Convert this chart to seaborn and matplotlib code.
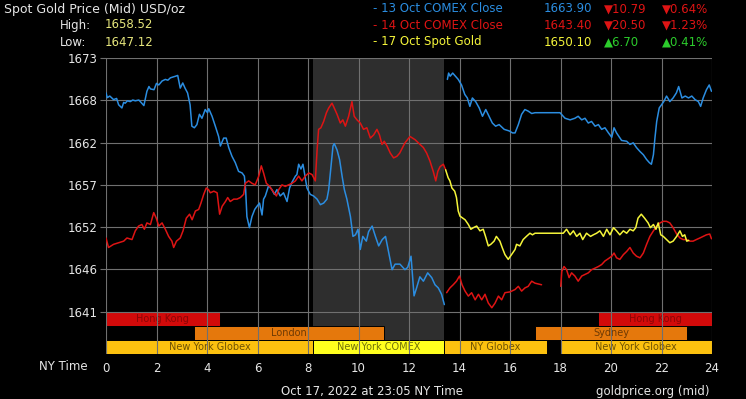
import numpy as np
import pandas as pd
import matplotlib
matplotlib.use("Agg")
import matplotlib.pyplot as plt
import seaborn as sns

# ---------------- data ----------------
# 13 Oct COMEX close line (blue), two segments
blue_a = [(0.00,1668.6),(0.05,1668.0),(0.15,1668.2),(0.30,1667.75),(0.42,1667.9),(0.50,1667.1),(0.63,1666.7),(0.70,1667.4),(0.76,1667.3),(0.85,1667.6),(0.96,1667.5),(1.06,1667.7),(1.16,1667.6),(1.30,1667.7),(1.36,1667.5),(1.50,1667.0),(1.62,1668.8),(1.70,1669.4),(1.76,1669.1),(1.90,1669.0),(2.00,1669.8),(2.09,1669.6),(2.22,1670.1),(2.35,1670.3),(2.45,1670.2),(2.55,1670.5),(2.65,1670.6),(2.75,1670.7),(2.84,1670.8),(2.94,1669.2),(3.04,1669.85),(3.13,1669.2),(3.23,1668.6),(3.33,1667.1),(3.40,1664.4),(3.50,1664.2),(3.60,1664.6),(3.70,1665.9),(3.80,1665.4),(3.93,1666.5),(4.02,1666.1),(4.07,1666.6),(4.20,1665.65),(4.33,1664.4),(4.46,1663.1),(4.53,1661.9),(4.66,1662.9),(4.76,1662.9),(4.86,1661.7),(4.99,1660.6),(5.12,1659.8),(5.25,1658.7),(5.39,1658.5),(5.48,1658.1),(5.53,1656.4),(5.58,1653.0),(5.68,1651.6),(5.78,1653.0),(5.89,1653.9),(5.98,1654.3),(6.08,1654.7),(6.18,1653.2),(6.24,1655.2),(6.31,1655.6),(6.44,1656.9),(6.57,1656.4),(6.67,1655.8),(6.77,1656.4),(6.90,1655.6),(7.03,1656.0),(7.17,1654.9),(7.27,1656.6),(7.36,1657.3),(7.43,1657.7),(7.50,1658.1),(7.56,1658.3),(7.63,1659.6),(7.72,1659.0),(7.80,1659.6),(7.87,1658.3),(7.96,1656.6),(8.09,1655.8),(8.22,1655.6),(8.36,1655.2),(8.49,1654.5),(8.62,1654.7),(8.75,1655.2),(8.82,1656.4),(8.91,1659.3),(8.99,1661.9),(9.04,1662.2),(9.15,1661.4),(9.25,1660.2),(9.35,1658.1),(9.44,1656.4),(9.54,1655.2),(9.68,1653.0),(9.78,1650.5),(9.88,1650.7),(9.98,1651.4),(10.07,1648.85),(10.17,1650.5),(10.31,1649.9),(10.40,1651.1),(10.54,1651.8),(10.67,1650.5),(10.80,1649.3),(10.94,1650.1),(11.07,1650.5),(11.20,1648.4),(11.33,1646.3),(11.45,1647.0),(11.64,1647.0),(11.84,1646.3),(11.95,1646.6),(12.08,1648.0),(12.20,1643.0),(12.30,1644.0),(12.43,1645.4),(12.57,1644.85),(12.74,1645.9),(12.90,1645.3),(13.03,1644.4),(13.16,1644.0),(13.29,1643.2),(13.40,1641.9)]
blue_b = [(13.52,1670.3),(13.57,1671.1),(13.63,1670.7),(13.73,1671.1),(13.84,1670.7),(13.95,1670.3),(14.08,1669.6),(14.21,1668.4),(14.31,1667.96),(14.41,1666.9),(14.51,1667.96),(14.64,1667.5),(14.78,1666.7),(14.91,1665.65),(15.04,1666.5),(15.17,1665.65),(15.30,1664.8),(15.43,1664.4),(15.57,1664.6),(15.77,1664.0),(15.97,1663.8),(16.10,1663.55),(16.20,1663.55),(16.33,1664.6),(16.46,1665.9),(16.59,1666.5),(16.72,1666.3),(16.86,1666.0),(16.99,1666.1),(17.98,1666.1),(18.18,1665.4),(18.38,1665.2),(18.57,1665.4),(18.70,1665.65),(18.84,1665.2),(18.97,1665.4),(19.10,1664.8),(19.23,1665.0),(19.37,1664.4),(19.50,1664.6),(19.63,1664.0),(19.76,1664.2),(19.90,1663.55),(20.03,1663.0),(20.12,1664.2),(20.22,1663.55),(20.42,1662.6),(20.62,1662.5),(20.75,1662.1),(20.88,1662.3),(21.01,1661.7),(21.15,1661.2),(21.28,1660.8),(21.41,1660.2),(21.52,1659.8),(21.60,1659.6),(21.68,1660.8),(21.74,1662.9),(21.81,1665.0),(21.91,1666.7),(22.00,1667.1),(22.09,1667.5),(22.20,1668.2),(22.33,1667.5),(22.46,1667.96),(22.59,1668.6),(22.68,1669.4),(22.81,1667.96),(22.94,1668.2),(23.07,1667.96),(23.20,1668.2),(23.33,1667.75),(23.46,1667.5),(23.55,1666.9),(23.65,1667.96),(23.78,1669.0),(23.89,1669.6),(23.98,1668.8)]

# 14 Oct COMEX close line (red), three segments
red_a = [(0.00,1650.3),(0.10,1649.1),(0.30,1649.5),(0.50,1649.7),(0.70,1649.9),(0.83,1650.3),(1.03,1650.1),(1.16,1651.2),(1.29,1651.8),(1.42,1652.0),(1.52,1651.4),(1.62,1652.2),(1.76,1652.0),(1.89,1653.5),(1.99,1652.8),(2.09,1651.8),(2.22,1652.2),(2.35,1651.4),(2.48,1650.5),(2.61,1649.9),(2.68,1649.1),(2.79,1649.9),(2.94,1650.3),(3.05,1651.2),(3.18,1652.8),(3.31,1653.3),(3.41,1652.6),(3.54,1653.7),(3.67,1653.9),(3.76,1654.7),(3.87,1655.8),(3.97,1656.6),(4.06,1656.4),(4.13,1656.0),(4.27,1656.2),(4.40,1656.0),(4.50,1653.3),(4.60,1654.3),(4.73,1654.9),(4.82,1655.4),(4.92,1654.9),(5.06,1655.2),(5.19,1655.2),(5.32,1655.4),(5.45,1655.8),(5.52,1657.2),(5.65,1657.5),(5.78,1657.2),(5.91,1657.0),(6.05,1658.1),(6.15,1659.4),(6.24,1658.5),(6.35,1657.2),(6.48,1656.8),(6.61,1656.2),(6.75,1655.6),(6.84,1656.4),(6.97,1657.0),(7.10,1656.8),(7.23,1657.0),(7.37,1657.2),(7.50,1657.5),(7.63,1658.1),(7.76,1657.5),(7.89,1658.1),(8.03,1658.5),(8.16,1658.3),(8.29,1657.5),(8.36,1661.4),(8.42,1664.0),(8.51,1664.2),(8.62,1665.0),(8.73,1666.1),(8.82,1666.7),(8.95,1667.3),(9.01,1666.9),(9.15,1665.9),(9.28,1664.8),(9.38,1665.2),(9.48,1664.4),(9.61,1665.65),(9.67,1666.5),(9.74,1667.5),(9.83,1665.65),(9.94,1665.2),(10.07,1664.8),(10.20,1664.0),(10.33,1664.2),(10.47,1662.9),(10.60,1663.3),(10.73,1664.0),(10.83,1663.3),(10.93,1662.1),(11.02,1662.5),(11.13,1661.9),(11.26,1661.0),(11.39,1660.4),(11.52,1660.6),(11.63,1661.0),(11.84,1662.3),(12.04,1663.1),(12.24,1662.7),(12.37,1662.3),(12.57,1661.7),(12.70,1661.0),(12.83,1660.0),(12.96,1658.7),(13.06,1657.5),(13.14,1658.7),(13.23,1659.3),(13.36,1659.6),(13.45,1658.9)]
red_b = [(13.49,1643.4),(13.62,1644.0),(13.75,1644.4),(13.88,1644.85),(14.00,1645.5),(14.10,1644.4),(14.22,1643.6),(14.35,1642.97),(14.48,1643.4),(14.62,1642.5),(14.75,1643.2),(14.88,1642.5),(15.01,1643.2),(15.14,1642.1),(15.28,1641.5),(15.41,1642.1),(15.54,1642.97),(15.67,1642.5),(15.80,1643.4),(16.00,1643.5),(16.20,1643.8),(16.33,1644.2),(16.46,1643.6),(16.59,1644.0),(16.72,1644.2),(16.86,1644.85),(16.99,1644.6),(17.12,1644.5),(17.25,1644.4)]
red_c = [(18.01,1644.2),(18.05,1646.1),(18.14,1646.7),(18.24,1646.3),(18.34,1645.3),(18.44,1645.9),(18.57,1645.5),(18.70,1644.85),(18.84,1645.5),(18.97,1645.7),(19.10,1645.9),(19.23,1646.3),(19.37,1646.5),(19.50,1646.7),(19.63,1646.95),(19.76,1647.4),(19.90,1647.7),(20.03,1648.0),(20.12,1648.4),(20.22,1647.8),(20.35,1647.6),(20.49,1648.2),(20.62,1648.6),(20.75,1649.1),(20.88,1648.4),(21.01,1648.0),(21.15,1647.8),(21.28,1648.4),(21.41,1649.5),(21.54,1650.5),(21.68,1651.2),(21.81,1651.8),(21.94,1652.2),(22.07,1652.4),(22.20,1652.4),(22.33,1652.2),(22.46,1651.6),(22.60,1650.8),(22.73,1650.3),(22.86,1650.1),(22.99,1650.1),(23.12,1649.9),(23.25,1649.9),(23.38,1650.1),(23.52,1650.3),(23.65,1650.5),(23.78,1650.7),(23.91,1650.8),(23.98,1650.2)]

# 17 Oct spot gold line (yellow)
yellow_a = [(13.45,1658.9),(13.49,1658.5),(13.55,1657.9),(13.62,1657.5),(13.70,1656.6),(13.81,1656.2),(13.88,1655.4),(13.95,1653.7),(14.02,1653.05),(14.22,1652.6),(14.35,1652.0),(14.45,1651.4),(14.55,1651.6),(14.68,1651.8),(14.81,1651.2),(14.94,1651.4),(15.03,1650.5),(15.14,1649.3),(15.24,1649.5),(15.37,1649.9),(15.46,1650.5),(15.60,1649.9),(15.69,1649.1),(15.80,1648.2),(15.93,1647.6),(16.06,1648.2),(16.20,1648.85),(16.26,1649.5),(16.39,1649.3),(16.52,1650.1),(16.65,1650.5),(16.79,1650.9),(16.89,1650.7),(16.99,1650.9),(17.98,1650.9),(18.11,1650.9),(18.24,1651.4),(18.38,1650.7),(18.51,1651.2),(18.64,1650.5),(18.77,1650.9),(18.88,1650.1),(19.03,1650.9),(19.19,1650.5),(19.30,1650.7),(19.43,1650.9),(19.56,1651.2),(19.70,1650.5),(19.83,1651.4),(19.96,1650.7),(20.10,1651.6),(20.22,1651.2),(20.35,1650.7),(20.49,1651.2),(20.62,1650.9),(20.75,1651.4),(20.88,1651.2),(20.98,1651.6),(21.07,1652.8),(21.20,1653.3),(21.33,1652.8),(21.47,1652.2),(21.56,1651.6),(21.68,1652.0),(21.78,1651.4),(21.87,1652.2),(21.97,1650.7),(22.07,1650.5),(22.20,1650.1),(22.33,1649.7),(22.46,1649.9),(22.60,1650.5),(22.73,1651.2),(22.83,1650.5),(22.92,1650.7),(23.00,1649.9),(23.08,1650.0)]

y_tick_values = [1641 + k * 32 / 6 for k in range(7)]
y_tick_labels = ["1641", "1646", "1652", "1657", "1662", "1668", "1673"]
x_ticks = list(range(0, 25, 2))
x_tick_labels = [str(t) for t in x_ticks]

session_names = ["Hong Kong", "Hong Kong", "London", "Sydney",
                 "New York Globex", "New York COMEX", "NY Globex", "New York Globex"]
session_start = [0.0, 19.5, 3.5, 17.0, 0.0, 8.2, 13.38, 18.0]
session_end = [4.5, 24.0, 11.0, 23.0, 8.2, 13.38, 17.45, 24.0]
session_row = [0, 0, 1, 1, 2, 2, 2, 2]
comex_start, comex_end = 8.2, 13.38

legend_rows = [
    ("- 13 Oct COMEX Close", "1663.90", "\u25bc10.79", "\u25bc0.64%"),
    ("- 14 Oct COMEX Close", "1643.40", "\u25bc20.50", "\u25bc1.23%"),
    ("- 17 Oct Spot Gold", "1650.10", "\u25b26.70", "\u25b20.41%"),
]
high_value, low_value = "1658.52", "1647.12"

# ---------------- styling ----------------
BLUE = "#2b8de0"
RED = "#de1414"
YELLOW = "#f5f53a"
GREEN = "#2ccc2c"
TXT = "#e6e6e6"
GRID = "#707070"

sns.set_theme(style="dark", rc={"axes.facecolor": "black", "figure.facecolor": "black"})
plt.rcParams["font.family"] = ["DejaVu Sans"]

W, H = 746, 399
fig = plt.figure(figsize=(W / 100, H / 100), dpi=100, facecolor="black")
ax = fig.add_axes([106 / W, 1 - 354 / H, 606 / W, 296 / H])
ax.set_facecolor("black")

interval = 32 / 6
ybot = 1641 - interval
row_h = interval / 3
ax.set_xlim(0, 24)
ax.set_ylim(ybot, 1673)

# COMEX shaded region
ax.axvspan(comex_start, comex_end, ymin=(row_h) / (1673 - ybot), ymax=1,
           color="#2e2e2e", zorder=0, lw=0)

# Session bars
face = {"Hong Kong": "#d20a0a", "London": "#e5780c", "Sydney": "#e5780c",
        "New York Globex": "#fcc10f", "NY Globex": "#fcc10f", "New York COMEX": "#ffff1e"}
tcol = {"Hong Kong": "#8a0606", "London": "#6e3a04", "Sydney": "#6e3a04",
        "New York Globex": "#6e5204", "NY Globex": "#6e5204", "New York COMEX": "#70700a"}
for name, s, e, r in zip(session_names, session_start, session_end, session_row):
    y0 = 1641 - (r + 1) * row_h
    ax.bar(s, row_h, width=e - s, bottom=y0, align="edge", color=face[name],
           edgecolor="black", linewidth=0.7, zorder=1)
    ax.text((s + e) / 2, y0 + row_h / 2, name, ha="center", va="center",
            fontsize=7, color=tcol[name], zorder=1.5)

# Price lines
records = []
for seg_name, series, pts in [("b1", "13 Oct", blue_a), ("b2", "13 Oct", blue_b),
                              ("r1", "14 Oct", red_a), ("r2", "14 Oct", red_b),
                              ("r3", "14 Oct", red_c), ("y1", "17 Oct", yellow_a)]:
    for h, v in pts:
        records.append({"hour": h, "price": v, "series": series, "seg": seg_name})
df = pd.DataFrame(records)
sns.lineplot(data=df, x="hour", y="price", hue="series", units="seg", estimator=None,
             sort=False, palette={"13 Oct": BLUE, "14 Oct": RED, "17 Oct": YELLOW},
             linewidth=1.1, legend=False, ax=ax, zorder=3)

# Grid
ax.set_xticks(x_ticks, labels=x_tick_labels)
ax.set_yticks(y_tick_values, labels=y_tick_labels)
ax.grid(True, color=GRID, linewidth=0.8, zorder=2)
ax.set_axisbelow(False)
for sp in ax.spines.values():
    sp.set_visible(False)
ax.tick_params(axis="y", colors=GRID, labelcolor=TXT, labelsize=8.5, length=4, width=0.8, pad=2, left=True)
ax.tick_params(axis="x", labelcolor=TXT, labelsize=8.5, length=0, pad=6)
ax.set_xlabel("")
ax.set_ylabel("")

def ftext(x, y, s, **kw):
    kw.setdefault("color", TXT)
    kw.setdefault("fontsize", 8.5)
    kw.setdefault("va", "center")
    fig.text(x / W, 1 - y / H, s, **kw)

# Header left
ftext(4, 9, "Spot Gold Price (Mid) USD/oz", fontsize=9)
ftext(60, 25, "High:", fontsize=8.5)
ftext(60, 42, "Low:", fontsize=8.5)
ftext(105, 25, high_value, color="#e6e67c", fontsize=8.5)
ftext(105, 42, low_value, color="#e6e67c", fontsize=8.5)

# Header right legend
row_colors = [BLUE, RED, YELLOW]
chg_colors = [RED, RED, GREEN]
for i, (lab, val, chg, pct) in enumerate(legend_rows):
    y = 9 + i * 16.5
    ftext(373, y, lab, color=row_colors[i], fontsize=8.5)
    ftext(592, y, val, color=row_colors[i], fontsize=8.5, ha="right")
    ftext(604, y, chg, color=chg_colors[i], fontsize=8.5)
    ftext(662, y, pct, color=chg_colors[i], fontsize=8.5)

# Bottom texts
ftext(88, 367, "NY Time", ha="right", fontsize=8.5)
ftext(372, 391, "Oct 17, 2022 at 23:05 NY Time", ha="center", fontsize=8.5)
ftext(710, 391, "goldprice.org (mid)", ha="right", fontsize=8.5)

fig.savefig("out.png", dpi=100, facecolor="black")
